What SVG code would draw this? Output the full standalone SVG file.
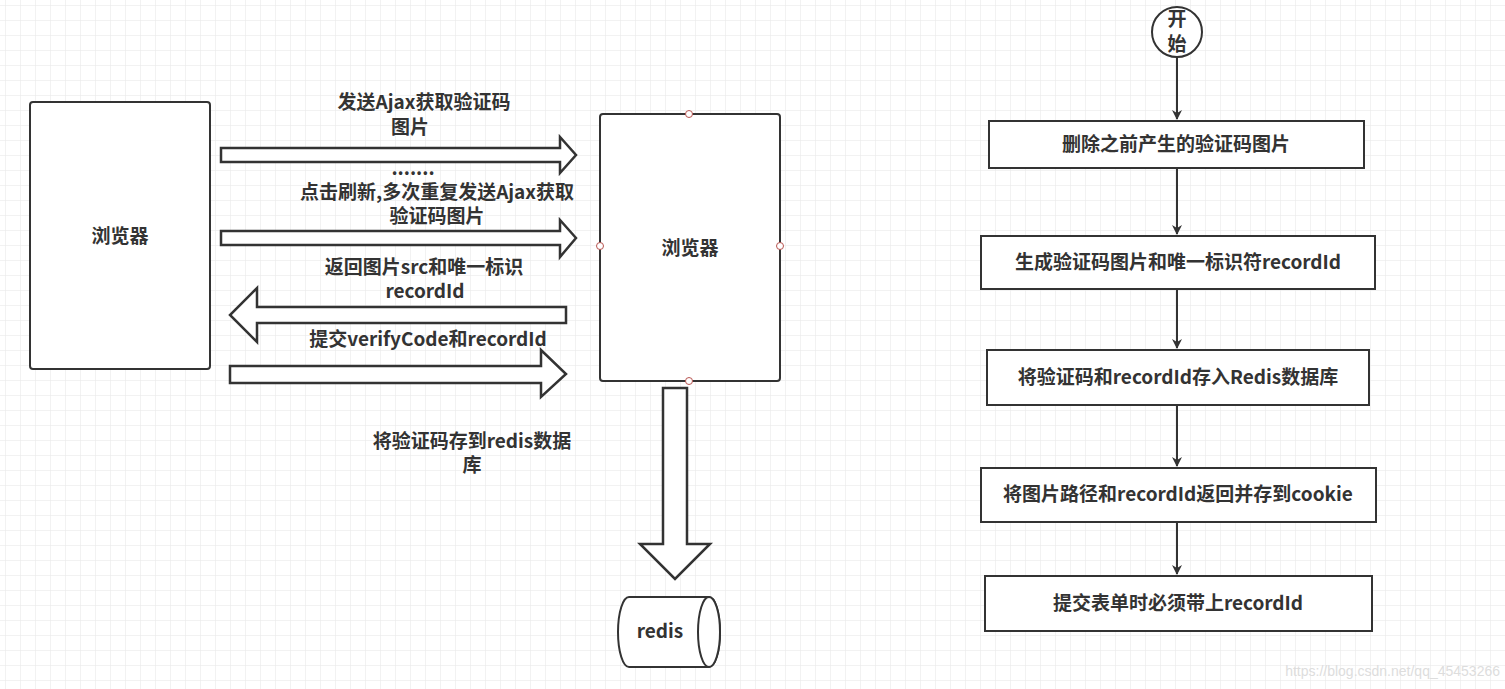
<svg xmlns="http://www.w3.org/2000/svg" width="1505" height="689" viewBox="0 0 1505 689">
<defs>
<pattern id="grid" width="15" height="15" patternUnits="userSpaceOnUse" x="5" y="5">
<path d="M15 0H0V15" fill="none" stroke="#e6e6e6" stroke-width="1"/>
</pattern>
<marker id="ah" markerWidth="10" markerHeight="10" refX="9" refY="5" orient="auto" markerUnits="userSpaceOnUse">
<path d="M0 0L10 5L0 10L3 5Z" fill="#333"/>
</marker>
<style>
.b{fill:#fff;stroke:#333;stroke-width:2}
.fat{fill:#fff;stroke:#333;stroke-width:2.5;stroke-linejoin:miter}
.t{font-family:"Noto Sans CJK SC","Noto Sans",sans-serif;font-weight:bold;font-size:19px;fill:#333;text-anchor:middle}
.c{stroke:#333;stroke-width:2;fill:none;marker-end:url(#ah)}
.pt{fill:#fff;stroke:#b85450;stroke-width:1}
</style>
</defs>
<rect width="1505" height="689" fill="#fff"/>
<rect width="1505" height="689" fill="url(#grid)"/>
<g id="browser1"><rect class="b" x="30" y="102" width="180" height="267" rx="3"/><text class="t" x="120" y="243">浏览器</text></g>
<g id="browser2"><rect class="b" x="600" y="114" width="180" height="267" rx="3"/><text class="t" x="690" y="255">浏览器</text>
<circle class="pt" cx="689" cy="114" r="3.5"/><circle class="pt" cx="600" cy="246" r="3.5"/><circle class="pt" cx="780" cy="246" r="3.5"/><circle class="pt" cx="689" cy="381" r="3.5"/></g>
<g id="redis"><path class="b" d="M629 597H709A11 35 0 0 1 709 667H629A11 35 0 0 1 629 597Z"/><ellipse class="b" cx="709" cy="632" rx="11" ry="35"/><text class="t" x="660" y="638">redis</text></g>
<g id="start"><circle class="b" cx="1177" cy="32" r="25"/><text class="t" x="1177" y="26">开</text><text class="t" x="1177" y="51">始</text></g>
<g id="s1"><rect class="b" x="989" y="121" width="375" height="47"/><text class="t" x="1176" y="151">删除之前产生的验证码图片</text></g>
<g id="s2"><rect class="b" x="981" y="236" width="394" height="53"/><text class="t" x="1178" y="269">生成验证码图片和唯一标识符recordId</text></g>
<g id="s3"><rect class="b" x="987" y="350" width="382" height="55"/><text class="t" x="1178" y="384">将验证码和recordId存入Redis数据库</text></g>
<g id="s4"><rect class="b" x="981" y="468" width="395" height="54"/><text class="t" x="1178" y="501">将图片路径和recordId返回并存到cookie</text></g>
<g id="s5"><rect class="b" x="985" y="576" width="387" height="55"/><text class="t" x="1178" y="610">提交表单时必须带上recordId</text></g>
<g id="connectors">
<path class="fat" d="M221 148H560V137L576 155L560 173V162H221Z"/>
<path class="fat" d="M221 231H560V220L576 238L560 257V245H221Z"/>
<path class="fat" d="M566 307H257V288L230 315L257 342V323H566Z"/>
<path class="fat" d="M230 366H541V350L566 374L541 397V383H230Z"/>
<path class="fat" d="M663 388H687V544H710L675 579L640 544H663Z"/>
<path class="c" d="M1177 57V119"/>
<path class="c" d="M1177 168V234"/>
<path class="c" d="M1177 289V348"/>
<path class="c" d="M1177 405V466"/>
<path class="c" d="M1177 522V574"/>
</g>
<g id="labels">
<text class="t" x="424" y="109">发送Ajax获取验证码</text><text class="t" x="410" y="134">图片</text>
<text class="t" x="413" y="175">.......</text>
<text class="t" x="437" y="199">点击刷新,多次重复发送Ajax获取</text><text class="t" x="437" y="223">验证码图片</text>
<text class="t" x="424" y="274">返回图片src和唯一标识</text><text class="t" x="425" y="298">recordId</text>
<text class="t" x="428" y="346">提交verifyCode和recordId</text>
<text class="t" x="472" y="448">将验证码存到redis数据</text><text class="t" x="472" y="472">库</text>
</g>
<text x="1500" y="676" style="font-family:'Liberation Sans',sans-serif;font-size:14px;fill:#ddd;text-anchor:end">https://blog.csdn.net/qq_45453266</text>
</svg>
